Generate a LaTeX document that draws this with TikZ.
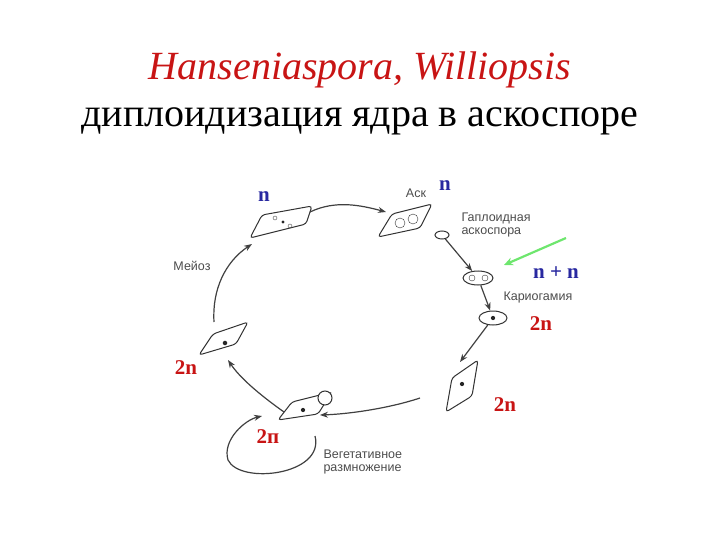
\documentclass[tikz,border=0pt]{standalone}
\usepackage{fontspec}
\setmainfont{Liberation Serif}
\newfontfamily\lab{Liberation Sans}
\usetikzlibrary{arrows.meta,shapes.geometric}
\definecolor{tblue}{RGB}{40,40,160}
\definecolor{tred}{RGB}{200,20,20}
\definecolor{tgreen}{RGB}{110,230,110}
\begin{document}
\begin{tikzpicture}[x=1pt,y=-1pt,
  cell/.style={draw=black!80,line width=1pt,fill=white,rounded corners=3pt},
  nuc/.style={fill=black!85},
  flow/.style={draw=black!75,line width=1.2pt,-{Stealth[length=8pt,width=6pt]}},
  hap/.style={text=tblue,font=\fontsize{21}{23}\selectfont\bfseries},
  dip/.style={text=tred,font=\fontsize{21}{23}\selectfont\bfseries},
  gl/.style={text=black!70,font=\lab\fontsize{12.5}{13}\selectfont,align=left}]
\useasboundingbox (0,0) rectangle (720,540);
\node[text=tred,font=\fontsize{40}{44}\selectfont\itshape] (t1) at (360,70) {Hanseniaspora, Williopsis};
\node[font=\fontsize{40}{44}\selectfont] (t2) at (360,121) {диплоидизация ядра в аскоспоре};
% cells
\path[cell] (250,238) -- (262,215) -- (312,206) -- (306,224) -- cycle;
\node[nuc,circle,inner sep=1.2pt] (c1) at (283,222) {};
\draw[black!70] (275,218) circle (2) (290,226) circle (2);
\path[cell] (378,237) -- (392,214) -- (432,204) -- (420,228) -- cycle;
\draw[black!80] (400,223) circle (5) (413,219) circle (5);
\node[cell,ellipse,minimum width=14pt,minimum height=8pt,inner sep=0pt] (sp) at (442,235) {};
\node[cell,ellipse,minimum width=30pt,minimum height=14pt,inner sep=0pt] (nn) at (478,278) {};
\draw[black!80] (472,278) circle (3) (485,278) circle (3);
\node[cell,ellipse,minimum width=28pt,minimum height=14pt,inner sep=0pt] (zy) at (493,318) {};
\node[nuc,circle,inner sep=1.5pt] at (493,318) {};
\path[cell] (446,412) -- (452,378) -- (478,360) -- (472,396) -- cycle;
\node[nuc,circle,inner sep=1.5pt] (veg) at (462,384) {};
\path[cell] (278,420) -- (292,402) -- (332,392) -- (318,414) -- cycle;
\draw[cell] (325,398) circle (7);
\node[nuc,circle,inner sep=1.5pt] (bud) at (303,410) {};
\path[cell] (199,355) -- (213,334) -- (248,322) -- (236,344) -- cycle;
\node[nuc,circle,inner sep=1.6pt] (lc) at (225,343) {};
% coordinates
\coordinate (a1) at (310,212); \coordinate (a2) at (386,212);
\coordinate (m1) at (214,322); \coordinate (m2) at (252,244);
\coordinate (b1) at (420,398); \coordinate (b2) at (320,415);
\coordinate (d1) at (284,412); \coordinate (d2) at (228,360);
\coordinate (l1) at (315,436); \coordinate (l2) at (262,416);
\coordinate (g1) at (566,238); \coordinate (g2) at (504,265);
\draw[flow] (a1) .. controls (335,200) and (360,205) .. (a2);
\draw[flow] (m1) .. controls (212,290) and (225,262) .. (m2);
\draw[flow] (b1) .. controls (390,408) and (350,414) .. (b2);
\draw[flow] (d1) .. controls (260,395) and (240,378) .. (d2);
\draw[flow] (l1) .. controls (325,475) and (240,485) .. (228,460) .. controls (222,440) and (245,420) .. (l2);
\draw[flow] (sp) -- (nn);
\draw[flow] (nn) -- (zy);
\draw[flow] (zy) -- (460,362);
\draw[draw=tgreen,line width=2.2pt,-{Stealth[length=9pt,width=8pt]}] (g1) -- (g2);
% labels
\node[hap] (l_n1) at (264,197) {n};
\node[hap] (l_n2) at (445,186) {n};
\node[gl] (ask) at (416,193) {Аск};
\node[gl,anchor=west] (gap) at (458,225) {Гаплоидная\\аскоспора};
\node[hap] (nn_l) at (556,273) {n + n};
\node[gl,anchor=west] (kar) at (500,297) {Кариогамия};
\node[dip] (d_a) at (541,324) {2n};
\node[dip] (d_b) at (186,368) {2n};
\node[dip] (d_c) at (505,405) {2n};
\node[dip] (d_d) at (268,437) {2п};
\node[gl] (mei) at (192,266) {Мейоз};
\node[gl,anchor=west] (veg_l) at (320,462) {Вегетативное\\размножение};
\end{tikzpicture}
\end{document}
